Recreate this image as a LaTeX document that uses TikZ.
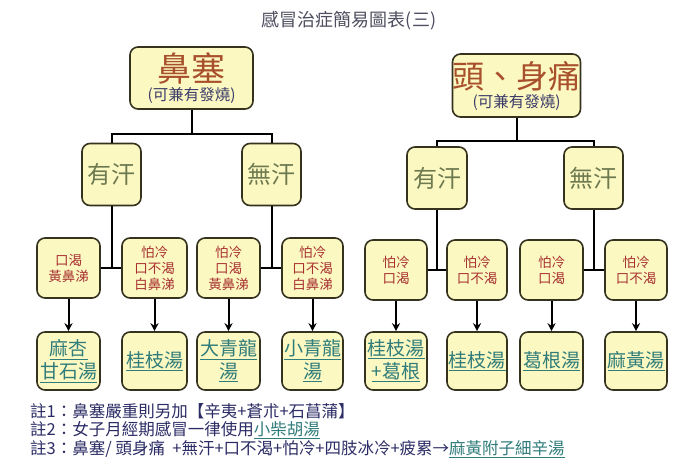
\documentclass[tikz,border=0pt]{standalone}
\usepackage{fontspec}
\newfontfamily\cjk{Noto Sans CJK TC}
\usetikzlibrary{arrows.meta}

\definecolor{boxfill}{HTML}{FCF8C2}
\definecolor{boxline}{HTML}{35321E}
\definecolor{titlegray}{HTML}{4E4E60}
\definecolor{symred}{HTML}{A8502C}
\definecolor{subblue}{HTML}{3C3C6A}
\definecolor{sweatgreen}{HTML}{6E7A50}
\definecolor{condred}{HTML}{A83232}
\definecolor{fangteal}{HTML}{2F7C7A}
\definecolor{notenavy}{HTML}{2C2C66}

\begin{document}
\begin{tikzpicture}[
  x=1pt, y=-1pt,
  every node/.style={font=\cjk, align=center, inner sep=0pt},
  box/.style={draw=boxline, line width=1.6pt, rounded corners=8pt, fill=boxfill},
  symbox/.style={box, font=\cjk\fontsize{15.5}{16}\selectfont, text=subblue},
  sweatbox/.style={box, minimum height=62, font=\cjk\fontsize{24}{25}\selectfont, text=sweatgreen},
  condbox/.style={box, minimum height=60, font=\cjk\fontsize{13.5}{16}\selectfont, text=condred},
  fangbox/.style={box, minimum height=58, font=\cjk\fontsize{19}{23}\selectfont, text=fangteal},
  note/.style={anchor=west, font=\cjk\fontsize{16.5}{17}\selectfont, text=notenavy},
  line/.style={draw=black, line width=2pt},
  arrow/.style={-{Stealth[length=8pt,width=8pt]}, line width=2pt}
]
\useasboundingbox[fill=white] (0,0) rectangle (700,468);

\node[font=\cjk\fontsize{18}{18}\selectfont, text=titlegray] (title) at (349,21) {感冒治症簡易圖表(三)};

% top symptoms
\node[symbox, minimum width=123, minimum height=62] (bisai) at (191.5,78)
  {{\fontsize{34}{36}\selectfont\color{symred}鼻塞}\\[3pt](可兼有發燒)};
\node[symbox, minimum width=127, minimum height=63] (toutong) at (516.5,85.5)
  {{\fontsize{32}{34}\selectfont\color{symred}頭、身痛}\\[3pt](可兼有發燒)};

% sweat or not
\node[sweatbox, minimum width=59] (youhanL) at (111.5,174.5) {有汗};
\node[sweatbox, minimum width=59] (wuhanL) at (271.5,174.5) {無汗};
\node[sweatbox, minimum width=60] (youhanR) at (437,178) {有汗};
\node[sweatbox, minimum width=59] (wuhanR) at (593.5,178) {無汗};

% conditions
\node[condbox, minimum width=63] (condL1) at (68.5,268) {口渴\\黃鼻涕};
\node[condbox, minimum width=65] (condL2) at (154.5,268) {怕冷\\口不渴\\白鼻涕};
\node[condbox, minimum width=63] (condL3) at (228.5,268) {怕冷\\口渴\\黃鼻涕};
\node[condbox, minimum width=61] (condL4) at (312.5,268) {怕冷\\口不渴\\白鼻涕};
\node[condbox, minimum width=62] (condR1) at (396,270) {怕冷\\口渴};
\node[condbox, minimum width=60] (condR2) at (477,270) {怕冷\\口不渴};
\node[condbox, minimum width=63] (condR3) at (551.5,270) {怕冷\\口渴};
\node[condbox, minimum width=62] (condR4) at (636,270) {怕冷\\口不渴};

% prescriptions
\node[fangbox, minimum width=63] (fangL1) at (68.5,361) {\underline{麻杏}\\\underline{甘石湯}};
\node[fangbox, minimum width=65] (fangL2) at (154.5,361) {\underline{桂枝湯}};
\node[fangbox, minimum width=63] (fangL3) at (228.5,361) {\underline{大青龍}\\\underline{湯}};
\node[fangbox, minimum width=61] (fangL4) at (312.5,361) {\underline{小青龍}\\\underline{湯}};
\node[fangbox, minimum width=62] (fangR1) at (396,361) {\underline{桂枝湯}\\\underline{+葛根}};
\node[fangbox, minimum width=60] (fangR2) at (477,361) {\underline{桂枝湯}};
\node[fangbox, minimum width=63] (fangR3) at (551.5,361) {\underline{葛根湯}};
\node[fangbox, minimum width=62] (fangR4) at (636,361) {\underline{麻黃湯}};

% notes
\node[note] (note1) at (30,411) {註1：鼻塞嚴重則另加【辛夷+蒼朮+石菖蒲】};
\node[note] (note2) at (30,430) {註2：女子月經期感冒一律使用{\color{fangteal}\underline{小柴胡湯}}};
\node[note] (note3) at (30,449) {註3：鼻塞/ 頭身痛 \ +無汗+口不渴+怕冷+四肢冰冷+疲累→{\color{fangteal}\underline{麻黃附子細辛湯}}};

% tree lines
\draw[line] (bisai.south) -- ++(0,24) coordinate (bisaiJ);
\draw[line] (youhanL.north) |- (bisaiJ) -| (wuhanL.north);
\draw[line] (toutong.south) -- ++(0,23) coordinate (toutongJ);
\draw[line] (youhanR.north) |- (toutongJ) -| (wuhanR.north);

\draw[line] (youhanL.south) -- (youhanL.south |- condL1.center);
\draw[line] (condL1) -- (condL2);
\draw[line] (wuhanL.south) -- (wuhanL.south |- condL3.center);
\draw[line] (condL3) -- (condL4);
\draw[line] (youhanR.south) -- (youhanR.south |- condR1.center);
\draw[line] (condR1) -- (condR2);
\draw[line] (wuhanR.south) -- (wuhanR.south |- condR3.center);
\draw[line] (condR3) -- (condR4);

% arrows down
\foreach \i in {1,...,4} {
  \draw[arrow] (condL\i) -- (fangL\i);
  \draw[arrow] (condR\i) -- (fangR\i);
}

\end{tikzpicture}
\end{document}
